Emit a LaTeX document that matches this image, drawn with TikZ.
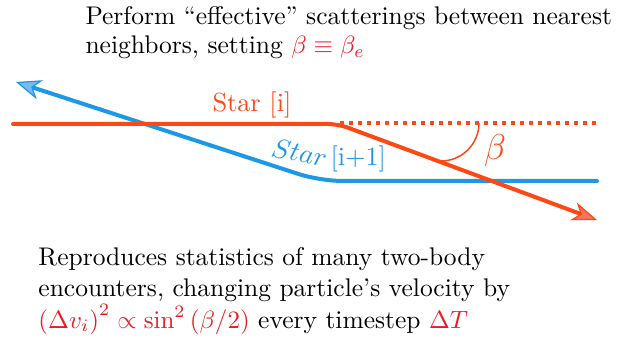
\documentclass[tikz,border=0pt]{standalone}
\usetikzlibrary{arrows.meta}
\definecolor{lred}{RGB}{255,72,20}
\definecolor{tred}{RGB}{232,30,36}
\definecolor{lblue}{RGB}{28,152,230}
\definecolor{ablue}{RGB}{125,185,238}
\definecolor{ared}{RGB}{246,118,92}
\begin{document}
\begin{tikzpicture}[x=0.4pt,y=-0.4pt,
  txt/.style={anchor=base west, inner sep=0pt, font=\fontsize{10.2}{12}\selectfont},
  lbl/.style={anchor=base west, inner sep=0pt, font=\fontsize{10.5}{12}\selectfont},
  track/.style={line width=1.6pt, line cap=round},
  redtrack/.style={track, lred, rounded corners=4pt,
    -{Stealth[length=10pt, width=7.5pt, inset=3pt, fill=ared, line width=0.5pt]}},
  bluetrack/.style={track, lblue, rounded corners=9pt,
    -{Stealth[length=10pt, width=8pt, inset=3pt, fill=ablue, line width=0.5pt]}},
  dotline/.style={lred, line width=1.3pt, dash pattern=on 1.6pt off 2pt},
  anglearc/.style={lred, line width=0.6pt}]
\useasboundingbox (0,0) rectangle (621,346);

% top text
\node[txt] (t1) at (85,25) {Perform ``effective'' scatterings between nearest};
\node[txt] (t2) at (85,54) {neighbors, setting \textcolor{tred}{$\beta\equiv\beta_e$}};

% coordinates
\coordinate (rs) at (13,124);
\coordinate (rb) at (338,124);
\coordinate (re) at (597,220);
\coordinate (ds) at (340,123);
\coordinate (de) at (597,123);
\coordinate (bs) at (597,181);
\coordinate (bb) at (320,181);
\coordinate (be) at (16,82);
\coordinate (as) at (479,123);

% blue track (star i+1)
\draw[bluetrack] (bs) -- (bb) -- (be);
% red track (star i)
\draw[dotline] (ds) -- (de);
\draw[redtrack] (rs) -- (rb) -- (re);
% angle
\draw[anglearc] (as) arc[start angle=0, end angle=90, radius=38];
\node[inner sep=0pt, text=lred, font=\fontsize{14}{16}\selectfont] (beta) at (495,151) {$\beta$};

% labels
\node[lbl, text=lred] (si) at (212,112) {Star [i]};
\node[lbl, text=lblue, rotate=-12] (sj) at (270,156) {$Star$};
\node[lbl, text=lblue] (sk) at (330,166) {[i+1]};

% bottom text
\node[txt] (b1) at (38,266) {Reproduces statistics of many two-body};
\node[txt] (b2) at (38,297) {encounters, changing particle's velocity by};
\node[txt] (b3) at (38,328) {\textcolor{tred}{$\left(\Delta v_i\right)^2\propto\sin^2\left(\beta/2\right)$} every timestep \textcolor{tred}{$\Delta T$}};
\end{tikzpicture}
\end{document}
